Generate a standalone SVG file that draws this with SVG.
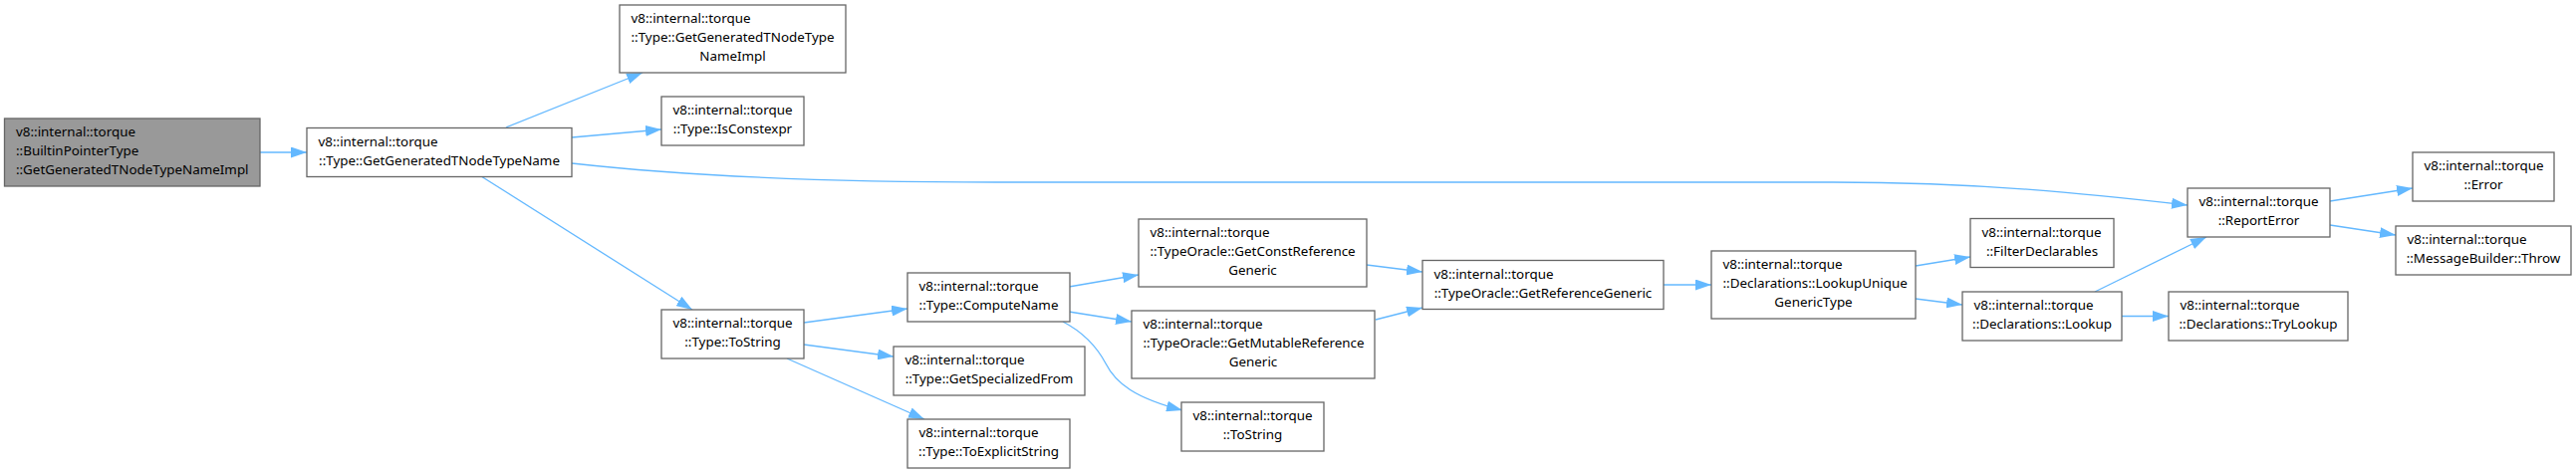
<svg xmlns="http://www.w3.org/2000/svg" width="2586" height="476" viewBox="0 0 2586 476">
<style>
.n rect{fill:#fff;stroke:#666;stroke-width:1.3}
.n.root rect{fill:#999}
.n text{font-family:"Noto Sans","Open Sans","DejaVu Sans",sans-serif;font-size:13.4px;fill:#000}
.n text.s{text-anchor:start}
.n text.m{text-anchor:middle}
#edges path{fill:none;stroke:#63b8ff;stroke-width:1.3;marker-end:url(#ah)}
</style>
<defs>
<marker id="ah" markerUnits="userSpaceOnUse" markerWidth="16" markerHeight="11" viewBox="0 0 16 11" refX="16" refY="5.5" orient="auto">
<polygon points="0,0 16,5.5 0,11" fill="#63b8ff"/>
</marker>
</defs>
<rect width="2586" height="476" fill="#fff"/>
<g id="edges">
<path d="M261,153 L308,153"/>
<path d="M508,128 L645,73"/>
<path d="M574,138 L664,130"/>
<path d="M483,177 L695,311"/>
<path d="M574,164 C700,178 850,183 1000,183 L1840,183 C1990,183 2100,195 2196,206"/>
<path d="M807,324 L911,310"/>
<path d="M807,346 L897,358"/>
<path d="M790,360 L928,421"/>
<path d="M1073,288 L1143,276"/>
<path d="M1073,313 L1136,323"/>
<path d="M1067,323 C1090,335 1102,350 1110,365 C1120,385 1140,400 1187,412"/>
<path d="M1372,266 L1428,273"/>
<path d="M1381,321 L1428,309"/>
<path d="M1670,286 L1718,286"/>
<path d="M1923,267 L1978,258"/>
<path d="M1923,300 L1970,306"/>
<path d="M2103,293 L2215,238"/>
<path d="M2130,317.5 L2177,317.5"/>
<path d="M2339,202 L2422,189"/>
<path d="M2339,226 L2405,236"/>
</g>
<g id="n1" class="n root"><rect x="4.5" y="119" width="256.5" height="68"/>
<text class="s" x="16" y="137">v8::internal::torque</text>
<text class="s" x="16" y="156">::BuiltinPointerType</text>
<text class="m" x="132.75" y="175">::GetGeneratedTNodeTypeNameImpl</text></g>
<g id="n2" class="n"><rect x="308" y="128.5" width="266" height="49"/>
<text class="s" x="319.5" y="146.5">v8::internal::torque</text>
<text class="m" x="441" y="165.5">::Type::GetGeneratedTNodeTypeName</text></g>
<g id="n3" class="n"><rect x="622" y="5" width="227" height="68"/>
<text class="s" x="633.5" y="23">v8::internal::torque</text>
<text class="s" x="633.5" y="42">::Type::GetGeneratedTNodeType</text>
<text class="m" x="735.5" y="61">NameImpl</text></g>
<g id="n4" class="n"><rect x="664" y="97" width="143" height="49"/>
<text class="s" x="675.5" y="115">v8::internal::torque</text>
<text class="m" x="735.5" y="134">::Type::IsConstexpr</text></g>
<g id="n5" class="n"><rect x="664" y="311" width="143" height="49"/>
<text class="s" x="675.5" y="329">v8::internal::torque</text>
<text class="m" x="735.5" y="348">::Type::ToString</text></g>
<g id="n6" class="n"><rect x="911" y="274" width="163" height="49"/>
<text class="s" x="922.5" y="292">v8::internal::torque</text>
<text class="m" x="992.5" y="311">::Type::ComputeName</text></g>
<g id="n7" class="n"><rect x="897" y="348" width="192" height="49"/>
<text class="s" x="908.5" y="366">v8::internal::torque</text>
<text class="m" x="993" y="385">::Type::GetSpecializedFrom</text></g>
<g id="n8" class="n"><rect x="911" y="421" width="163" height="49"/>
<text class="s" x="922.5" y="439">v8::internal::torque</text>
<text class="m" x="992.5" y="458">::Type::ToExplicitString</text></g>
<g id="n9" class="n"><rect x="1143" y="220" width="229" height="68"/>
<text class="s" x="1154.5" y="238">v8::internal::torque</text>
<text class="s" x="1154.5" y="257">::TypeOracle::GetConstReference</text>
<text class="m" x="1257.5" y="276">Generic</text></g>
<g id="n10" class="n"><rect x="1136" y="312" width="244" height="68"/>
<text class="s" x="1147.5" y="330">v8::internal::torque</text>
<text class="s" x="1147.5" y="349">::TypeOracle::GetMutableReference</text>
<text class="m" x="1258" y="368">Generic</text></g>
<g id="n11" class="n"><rect x="1186" y="404" width="143" height="49"/>
<text class="s" x="1197.5" y="422">v8::internal::torque</text>
<text class="m" x="1257.5" y="441">::ToString</text></g>
<g id="n12" class="n"><rect x="1428" y="261.5" width="242" height="49"/>
<text class="s" x="1439.5" y="279.5">v8::internal::torque</text>
<text class="m" x="1549" y="298.5">::TypeOracle::GetReferenceGeneric</text></g>
<g id="n13" class="n"><rect x="1718" y="252" width="205" height="68"/>
<text class="s" x="1729.5" y="270">v8::internal::torque</text>
<text class="s" x="1729.5" y="289">::Declarations::LookupUnique</text>
<text class="m" x="1820.5" y="308">GenericType</text></g>
<g id="n14" class="n"><rect x="1978" y="219.5" width="144" height="49"/>
<text class="s" x="1989.5" y="237.5">v8::internal::torque</text>
<text class="m" x="2050" y="256.5">::FilterDeclarables</text></g>
<g id="n15" class="n"><rect x="1970" y="293" width="160" height="49"/>
<text class="s" x="1981.5" y="311">v8::internal::torque</text>
<text class="m" x="2050" y="330">::Declarations::Lookup</text></g>
<g id="n16" class="n"><rect x="2177" y="293" width="180" height="49"/>
<text class="s" x="2188.5" y="311">v8::internal::torque</text>
<text class="m" x="2267" y="330">::Declarations::TryLookup</text></g>
<g id="n17" class="n"><rect x="2196" y="189" width="143" height="49"/>
<text class="s" x="2207.5" y="207">v8::internal::torque</text>
<text class="m" x="2267.5" y="226">::ReportError</text></g>
<g id="n18" class="n"><rect x="2422" y="153" width="142" height="49"/>
<text class="s" x="2433.5" y="171">v8::internal::torque</text>
<text class="m" x="2493" y="190">::Error</text></g>
<g id="n19" class="n"><rect x="2405" y="227" width="176" height="49"/>
<text class="s" x="2416.5" y="245">v8::internal::torque</text>
<text class="m" x="2493" y="264">::MessageBuilder::Throw</text></g>
</svg>
